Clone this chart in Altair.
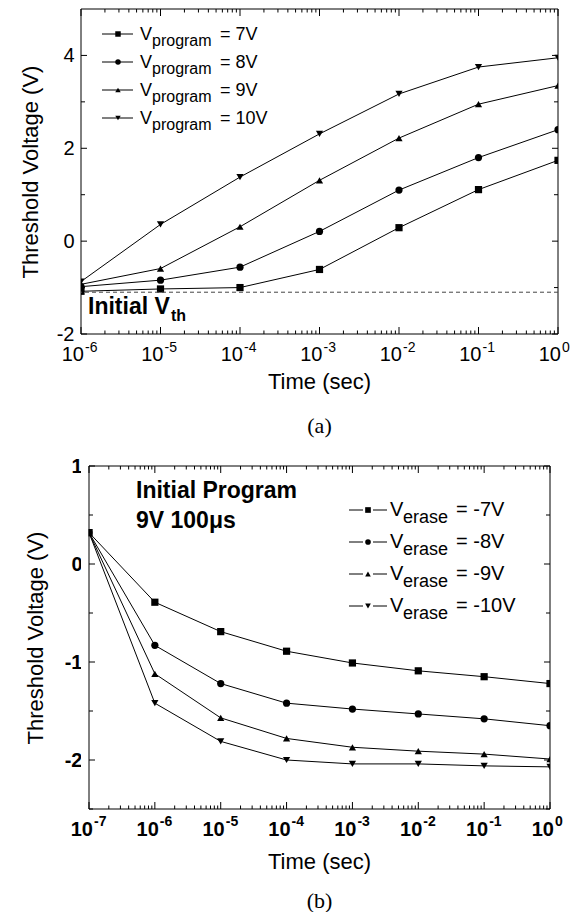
import altair as alt
import pandas as pd

# ---------------- data ----------------
time_a = [1e-6, 1e-5, 1e-4, 1e-3, 1e-2, 1e-1, 1.0]
program_series = ["7V", "8V", "9V", "10V"]
vth_prog_7 = [-1.08, -1.03, -1.00, -0.61, 0.29, 1.11, 1.74]
vth_prog_8 = [-0.98, -0.84, -0.56, 0.21, 1.10, 1.80, 2.40]
vth_prog_9 = [-0.93, -0.59, 0.31, 1.31, 2.22, 2.95, 3.35]
vth_prog_10 = [-0.87, 0.36, 1.38, 2.31, 3.17, 3.75, 3.95]
initial_vth = [-1.1]

time_b = [1e-7, 1e-6, 1e-5, 1e-4, 1e-3, 1e-2, 1e-1, 1.0]
erase_series = ["-7V", "-8V", "-9V", "-10V"]
vth_erase_7 = [0.32, -0.39, -0.69, -0.89, -1.01, -1.09, -1.15, -1.22]
vth_erase_8 = [0.32, -0.83, -1.22, -1.42, -1.48, -1.53, -1.58, -1.65]
vth_erase_9 = [0.32, -1.12, -1.57, -1.78, -1.87, -1.91, -1.94, -1.99]
vth_erase_10 = [0.32, -1.42, -1.81, -2.00, -2.04, -2.04, -2.06, -2.07]

exps_a = ["-6", "-5", "-4", "-3", "-2", "-1", "0"]
exps_b = ["-7", "-6", "-5", "-4", "-3", "-2", "-1", "0"]
yt_major_a = [-2, 0, 2, 4]
yt_minor_a = [-1, 1, 3]
yt_major_b = [-2, -1, 0, 1]
yt_minor_b = [-2.5, -1.5, -0.5, 0.5]

SHAPES = ["square", "circle", "triangle-up", "triangle-down"]
SIZES = [52, 52, 66, 66]
SANS = "Liberation Sans"
SERIF = "Liberation Serif"


def long_df(times, names, series):
    rows = []
    for n, vals in zip(names, series):
        for t, v in zip(times, vals):
            rows.append({"t": t, "v": v, "s": n})
    return pd.DataFrame(rows)


def tick_values(exps):
    major = [10.0 ** int(e) for e in exps]
    minor = [k * 10.0 ** int(e) for e in exps[:-1] for k in range(2, 10)]
    return major, minor


def panel(df, names, exps, ydom, x0, W, H, ymaj, ymin, bold, ytitle_x,
          lbl_base, exp_base, lbl_dx, exp_dx, xtitle_base, cap, cap_base,
          legend, extra, inv):
    GW = x0 + W
    xs = alt.Scale(type="log", domain=[10.0 ** int(exps[0]), 1.0], nice=False, range=[x0, GW])
    ys = alt.Scale(domain=ydom, nice=False, zero=False)
    weight = "bold" if bold else "normal"
    yaxis = alt.Axis(values=ymaj, ticks=False, domain=False, grid=False, offset=-x0,
                     labelExpr="'' + datum.value",
                     labelFont=SANS, labelFontSize=20, labelFontWeight=weight,
                     labelColor="black", labelPadding=7,
                     title="Threshold Voltage (V)", titleFont=SANS,
                     titleFontSize=22, titleFontWeight="normal",
                     titleColor="black", titleX=ytitle_x, titleY=H / 2)
    X = alt.X("t:Q", scale=xs, axis=None)
    Y = alt.Y("v:Q", scale=ys, axis=yaxis)

    layers = []
    one = pd.DataFrame({"a": [0]})
    base = alt.Chart(df)
    layers.append(base.mark_line(color="black", strokeWidth=1, clip=True)
                  .encode(x=X, y=Y, detail="s:N"))
    layers.append(base.mark_point(filled=True, color="black", opacity=1, clip=True)
                  .encode(x=X, y=Y,
                          shape=alt.Shape("s:N", scale=alt.Scale(domain=names, range=SHAPES), legend=None),
                          size=alt.Size("s:N", scale=alt.Scale(domain=names, range=SIZES), legend=None)))
    if x0 > 0:
        # hide the part of the markers left of the frame
        layers.append(alt.Chart(one).mark_rect(color="white", opacity=1)
                      .encode(x=alt.value(0), x2=alt.value(x0 - 0.5), y=alt.value(0), y2=alt.value(H)))

    # frame
    for (a, b, c, d) in ((x0, x0, 0, H), (GW, GW, 0, H), (x0, GW, 0, 0), (x0, GW, H, H)):
        layers.append(alt.Chart(one).mark_rule(color="black", strokeWidth=1)
                      .encode(x=alt.value(a), x2=alt.value(b), y=alt.value(c), y2=alt.value(d)))

    major, minor = tick_values(exps)
    dmaj = pd.DataFrame({"t": major})
    dmin = pd.DataFrame({"t": minor})
    for d, L in ((dmaj, 7), (dmin, 3.5)):
        layers.append(alt.Chart(d).mark_rule(color="black", strokeWidth=1)
                      .encode(x=X, y=alt.value(H), y2=alt.value(H - L)))
        layers.append(alt.Chart(d).mark_rule(color="black", strokeWidth=1)
                      .encode(x=X, y=alt.value(0), y2=alt.value(L)))
    for vals, L in ((ymaj, 6), (ymin, 4)):
        d = pd.DataFrame({"v": vals})
        layers.append(alt.Chart(d).mark_rule(color="black", strokeWidth=1)
                      .encode(y=Y, x=alt.value(x0), x2=alt.value(x0 + L)))
        layers.append(alt.Chart(d).mark_rule(color="black", strokeWidth=1)
                      .encode(y=Y, x=alt.value(GW), x2=alt.value(GW - L)))

    # x tick labels: 10 with superscript exponent
    dl = pd.DataFrame({"t": major, "e": exps})
    layers.append(alt.Chart(dl).mark_text(text="10", font=SANS, fontSize=20, fontWeight=weight,
                                          align="right", baseline="alphabetic", dx=lbl_dx, color="black")
                  .encode(x=X, y=alt.value(lbl_base)))
    layers.append(alt.Chart(dl).mark_text(font=SANS, fontSize=14, fontWeight=weight,
                                          align="left", baseline="alphabetic", dx=exp_dx, color="black")
                  .encode(x=X, y=alt.value(exp_base), text="e:N"))

    layers.append(alt.Chart(one).mark_text(text="Time (sec)", font=SANS, fontSize=22,
                                           align="center", baseline="alphabetic", color="black")
                  .encode(x=alt.value(x0 + W / 2), y=alt.value(xtitle_base)))
    layers.append(alt.Chart(one).mark_text(text=cap, font=SERIF, fontSize=22,
                                           align="center", baseline="alphabetic", color="black")
                  .encode(x=alt.value(x0 + W / 2), y=alt.value(cap_base)))

    # legend rows
    for i, n in enumerate(names):
        ly = legend["y0"] + i * legend["dy"]
        d = pd.DataFrame({"s": [n], "eq": ["= " + n]})
        for (a, b) in legend["segs"]:
            layers.append(alt.Chart(d).mark_rule(color="black", strokeWidth=1)
                          .encode(x=alt.value(x0 + a), x2=alt.value(x0 + b), y=alt.value(ly)))
        layers.append(alt.Chart(d).mark_point(shape=SHAPES[i], filled=True, color="black",
                                              opacity=1, size=legend["msize"])
                      .encode(x=alt.value(x0 + legend["mx"]), y=alt.value(ly)))
        layers.append(alt.Chart(d).mark_text(text="V", font=SANS, fontSize=legend["fs"],
                                             align="left", baseline="alphabetic", color="black")
                      .encode(x=alt.value(x0 + legend["vx"]), y=alt.value(ly + legend["vb"])))
        layers.append(alt.Chart(d).mark_text(text=legend["sub"], font=SANS, fontSize=legend["sfs"],
                                             align="left", baseline="alphabetic", color="black")
                      .encode(x=alt.value(x0 + legend["sx"]), y=alt.value(ly + legend["sb"])))
        layers.append(alt.Chart(d).mark_text(font=SANS, fontSize=legend["fs"],
                                             align="left", baseline="alphabetic", color="black")
                      .encode(x=alt.value(x0 + legend["ex"]), y=alt.value(ly + legend["vb"]), text="eq:N"))

    layers.extend(extra(one, X, Y, x0))

    # invisible element fixing the panel's layout bounds
    layers.append(alt.Chart(one).mark_rule(opacity=0, strokeOpacity=0)
                  .encode(x=alt.value(inv[0]), x2=alt.value(0), y=alt.value(inv[1])))

    return alt.layer(*layers).properties(width=GW, height=H)


def extra_a(one, X, Y, x0):
    out = []
    dv = pd.DataFrame({"v": initial_vth})
    out.append(alt.Chart(dv).mark_rule(color="#444", strokeWidth=1, strokeDash=[4, 3])
               .encode(y=Y))
    out.append(alt.Chart(one).mark_text(text="Initial V", font=SANS, fontSize=23, fontWeight="bold",
                                        align="left", baseline="alphabetic", color="black")
               .encode(x=alt.value(x0 + 7), y=alt.value(305)))
    out.append(alt.Chart(one).mark_text(text="th", font=SANS, fontSize=16, fontWeight="bold",
                                        align="left", baseline="alphabetic", color="black")
               .encode(x=alt.value(x0 + 90), y=alt.value(312)))
    return out


def extra_b(one, X, Y, x0):
    out = []
    out.append(alt.Chart(one).mark_text(text="Initial Program", font=SANS, fontSize=23, fontWeight="bold",
                                        align="left", baseline="alphabetic", color="black")
               .encode(x=alt.value(x0 + 47), y=alt.value(32)))
    out.append(alt.Chart(one).mark_text(text="9V 100μs", font=SANS, fontSize=23, fontWeight="bold",
                                        align="left", baseline="alphabetic", color="black")
               .encode(x=alt.value(x0 + 47), y=alt.value(62)))
    return out


top = panel(long_df(time_a, program_series, [vth_prog_7, vth_prog_8, vth_prog_9, vth_prog_10]),
            program_series, exps_a, [-2, 5], 0, 477, 325, yt_major_a, yt_minor_a, False, -39,
            352, 343, 3, 4, 380, "(a)", 424,
            dict(y0=25, dy=28, segs=[(21, 52)], mx=37, msize=30, fs=18, vx=59, vb=6,
                 sub="program", sfs=16, sx=71, sb=12, ex=139),
            extra_a, (-73, 437))

bottom = panel(long_df(time_b, erase_series, [vth_erase_7, vth_erase_8, vth_erase_9, vth_erase_10]),
               erase_series, exps_b, [-2.5, 1], 8, 461, 343, yt_major_b, yt_minor_b, True, -42,
               370, 360, 4, 5, 403, "(b)", 442,
               dict(y0=44, dy=32, segs=[(260, 274), (284, 298)], mx=279, msize=32, fs=20, vx=301, vb=6,
                    sub="erase", sfs=18, sx=314, sb=13, ex=367),
               extra_b, (-60, -20))

chart = alt.vconcat(top, bottom, spacing=0).properties(padding=0).configure_view(stroke=None)

chart.save("out.html", embed_options={"renderer": "svg", "actions": False})
